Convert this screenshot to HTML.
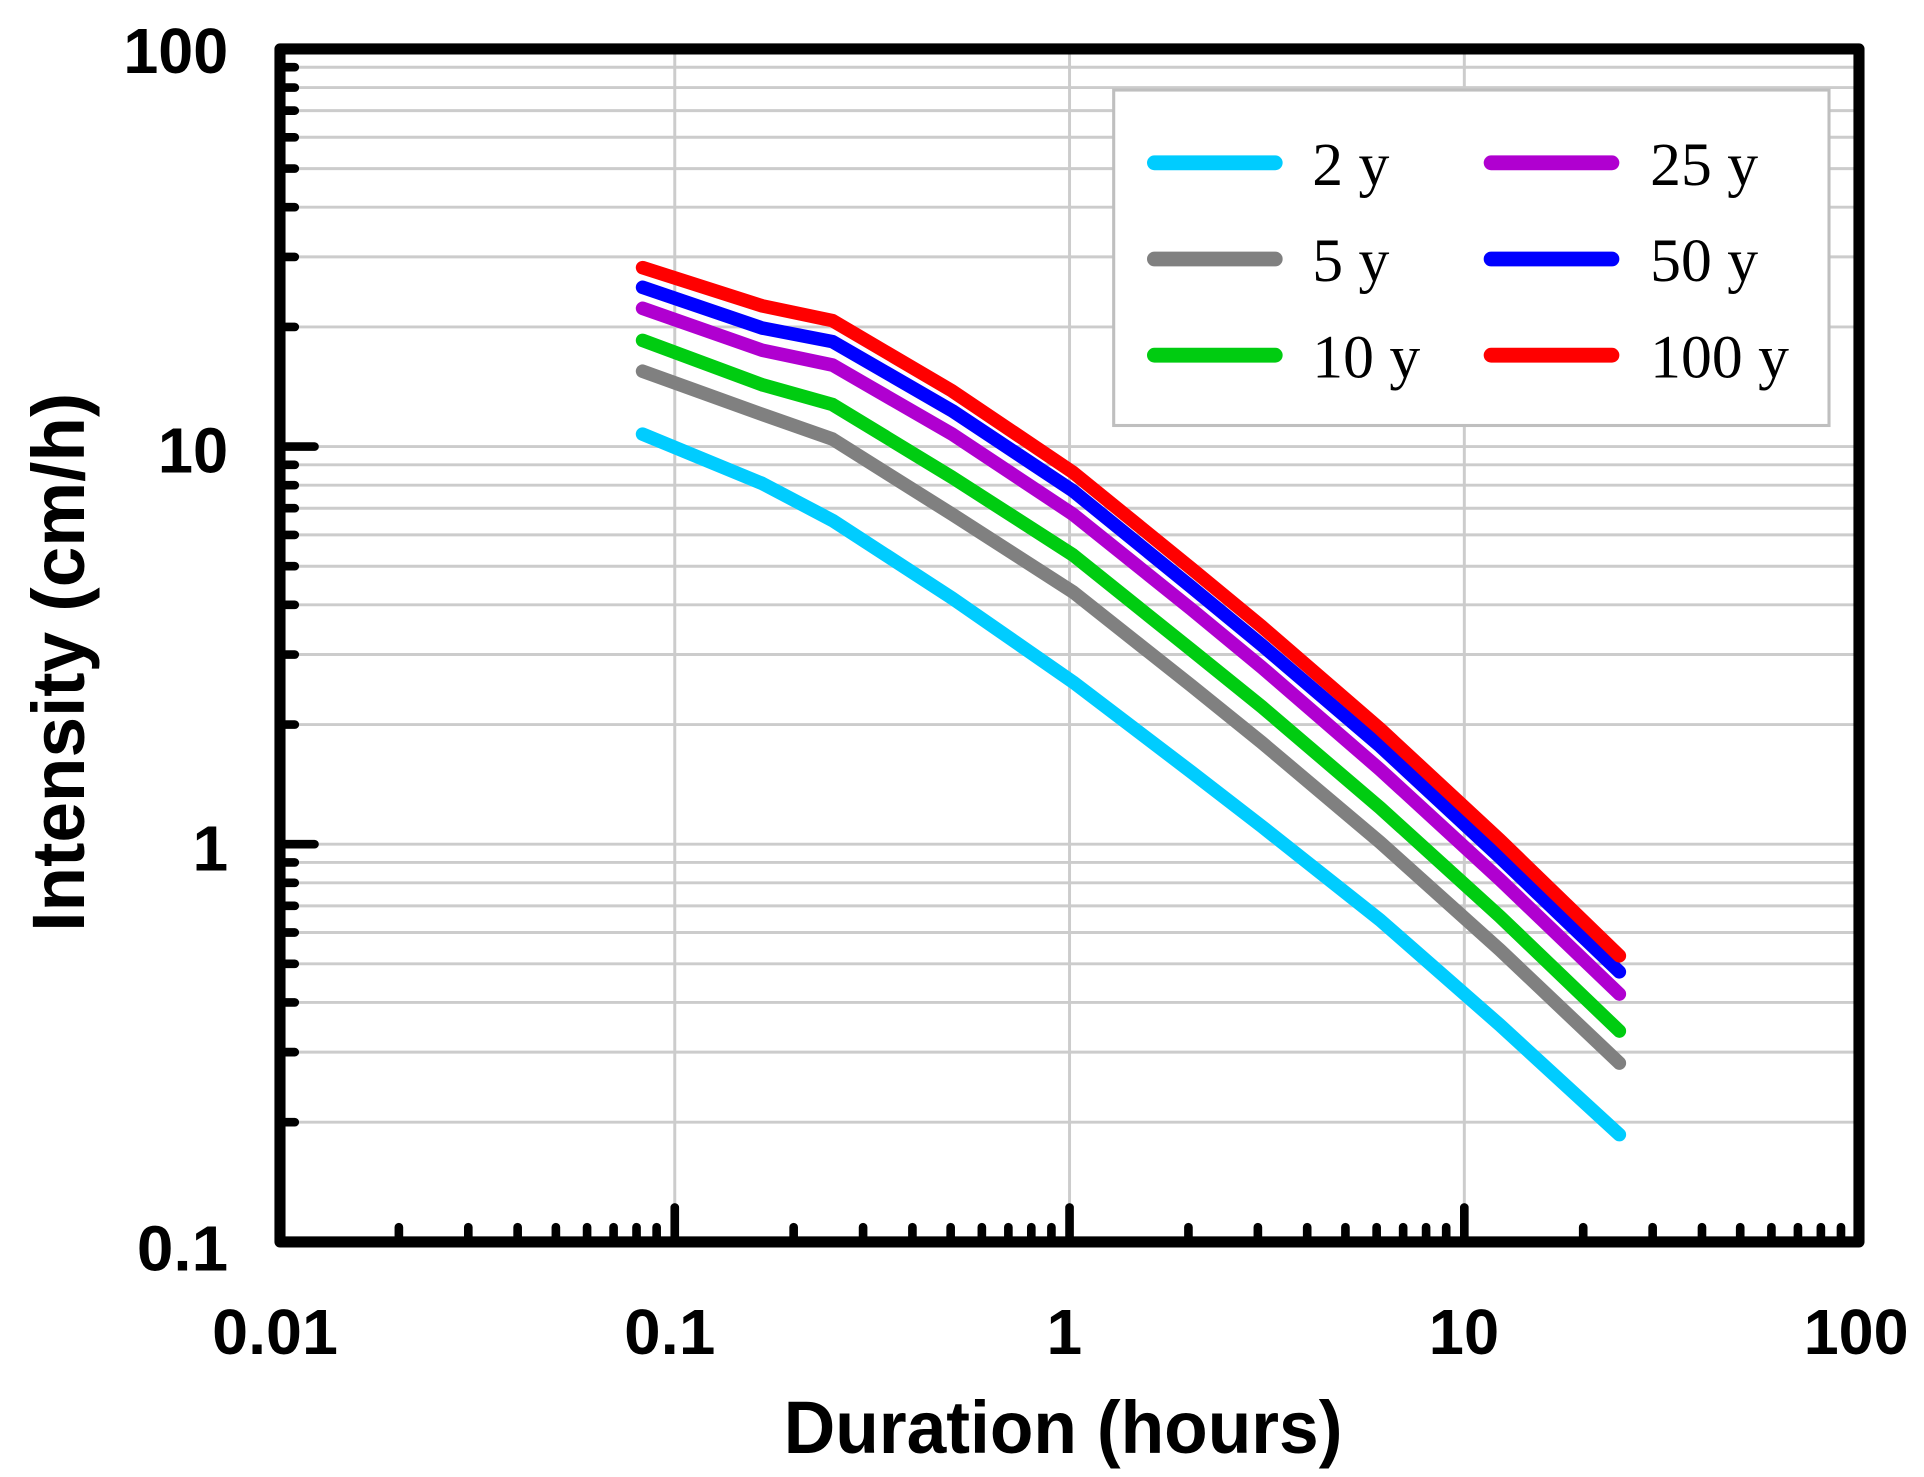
<!DOCTYPE html>
<html><head><meta charset="utf-8"><style>html,body{margin:0;padding:0;background:#fff}svg{display:block}</style></head>
<body>
<svg width="1924" height="1477" viewBox="0 0 1560 1197.6" xmlns="http://www.w3.org/2000/svg">
<g stroke="#cccccc" stroke-width="2.4" fill="none">
<path d="M227 54.5H1507M227 71H1507M227 89.7H1507M227 111.3H1507M227 136.7H1507M227 168H1507M227 208.3H1507M227 265.1H1507M227 362.1H1507
M227 376.9H1507M227 393.4H1507M227 412.1H1507M227 433.7H1507M227 459.1H1507M227 490.4H1507M227 530.7H1507M227 587.5H1507M227 684.5H1507
M227 699.3H1507M227 715.8H1507M227 734.5H1507M227 756.1H1507M227 781.5H1507M227 812.8H1507M227 853.1H1507M227 909.9H1507
M547.1 40V1007M867.2 40V1007M1187.3 40V1007"/>
</g>
<g stroke="#000" stroke-width="7" stroke-linecap="round" fill="none">
<path d="M227 54.5h12M227 71h12M227 89.7h12M227 111.3h12M227 136.7h12M227 168h12M227 208.3h12M227 265.1h12M227 362.1h28
M227 376.9h12M227 393.4h12M227 412.1h12M227 433.7h12M227 459.1h12M227 490.4h12M227 530.7h12M227 587.5h12M227 684.5h28
M227 699.3h12M227 715.8h12M227 734.5h12M227 756.1h12M227 781.5h12M227 812.8h12M227 853.1h12M227 909.9h12"/>
<path d="M323.4 1007v-12M379.7 1007v-12M419.7 1007v-12M450.7 1007v-12M476 1007v-12M497.5 1007v-12M516.1 1007v-12M532.4 1007v-12M547.1 1007v-28
M643.5 1007v-12M699.8 1007v-12M739.8 1007v-12M770.8 1007v-12M796.1 1007v-12M817.6 1007v-12M836.2 1007v-12M852.5 1007v-12M867.2 1007v-28
M963.6 1007v-12M1019.9 1007v-12M1059.9 1007v-12M1090.9 1007v-12M1116.2 1007v-12M1137.7 1007v-12M1156.3 1007v-12M1172.6 1007v-12M1187.3 1007v-28
M1283.7 1007v-12M1340 1007v-12M1380 1007v-12M1411 1007v-12M1436.3 1007v-12M1457.8 1007v-12M1476.4 1007v-12M1492.7 1007v-12"/>
</g>
<rect x="227" y="39.7" width="1280.3" height="967.3" fill="none" stroke="#000" stroke-width="9" stroke-linejoin="round"/>
<g fill="none" stroke-width="11" stroke-linecap="round" stroke-linejoin="round">
<polyline stroke="#00ccff" points="521,352 618,392 675,422 772,485 870,553 966,626 1023,670 1119,746 1216,831 1313,920"/>
<polyline stroke="#808080" points="521,301 618,336 675,356 772,417 870,480 966,556 1023,602 1119,683 1216,770 1313,862"/>
<polyline stroke="#00cc11" points="521,276 618,312 675,328 772,387 870,450 966,527 1023,573 1119,655 1216,743 1313,836"/>
<polyline stroke="#b000d0" points="521,250 618,284 675,296 772,352 870,417 966,494 1023,541 1119,624 1216,713 1313,806"/>
<polyline stroke="#0000ff" points="521,233 618,266 675,277 772,333 870,398 966,476 1023,523 1119,605 1216,695 1313,788"/>
<polyline stroke="#ff0000" points="521,217 618,248 675,260 772,317 870,383 966,461 1023,508 1119,591 1216,681 1313,775"/>
</g>
<rect x="903" y="73" width="580" height="272" fill="#fff" stroke="#bfbfbf" stroke-width="2.5"/>
<g stroke-width="12" stroke-linecap="round">
<path stroke="#00ccff" d="M936 132H1034"/><path stroke="#808080" d="M936 210H1034"/><path stroke="#00cc11" d="M936 288H1034"/>
<path stroke="#b000d0" d="M1209 132H1307"/><path stroke="#0000ff" d="M1209 210H1307"/><path stroke="#ff0000" d="M1209 288H1307"/>
</g>
<g font-family="Liberation Serif, serif" font-size="50" fill="#000">
<text x="1064" y="150">2 y</text><text x="1064" y="228">5 y</text><text x="1064" y="306">10 y</text>
<text x="1338" y="150">25 y</text><text x="1338" y="228">50 y</text><text x="1338" y="306">100 y</text>
</g>
<g font-family="Liberation Sans, sans-serif" font-weight="bold" font-size="52" fill="#000">
<text x="185" y="59" text-anchor="end" textLength="85" lengthAdjust="spacingAndGlyphs">100</text>
<text x="185" y="383" text-anchor="end" textLength="57" lengthAdjust="spacingAndGlyphs">10</text>
<text x="185" y="706" text-anchor="end">1</text>
<text x="185" y="1030" text-anchor="end" textLength="74" lengthAdjust="spacingAndGlyphs">0.1</text>
<text x="223" y="1098" text-anchor="middle" textLength="102" lengthAdjust="spacingAndGlyphs">0.01</text>
<text x="543" y="1098" text-anchor="middle" textLength="74" lengthAdjust="spacingAndGlyphs">0.1</text>
<text x="863" y="1098" text-anchor="middle">1</text>
<text x="1187" y="1098" text-anchor="middle" textLength="57" lengthAdjust="spacingAndGlyphs">10</text>
<text x="1505" y="1098" text-anchor="middle" textLength="85" lengthAdjust="spacingAndGlyphs">100</text>
</g>
<g font-family="Liberation Sans, sans-serif" font-weight="bold" font-size="60" fill="#000">
<text x="862" y="1178" text-anchor="middle" textLength="453" lengthAdjust="spacingAndGlyphs">Duration (hours)</text>
<text transform="translate(68,537) rotate(-90)" text-anchor="middle" textLength="437" lengthAdjust="spacingAndGlyphs">Intensity (cm/h)</text>
</g>
</svg>
</body></html>
